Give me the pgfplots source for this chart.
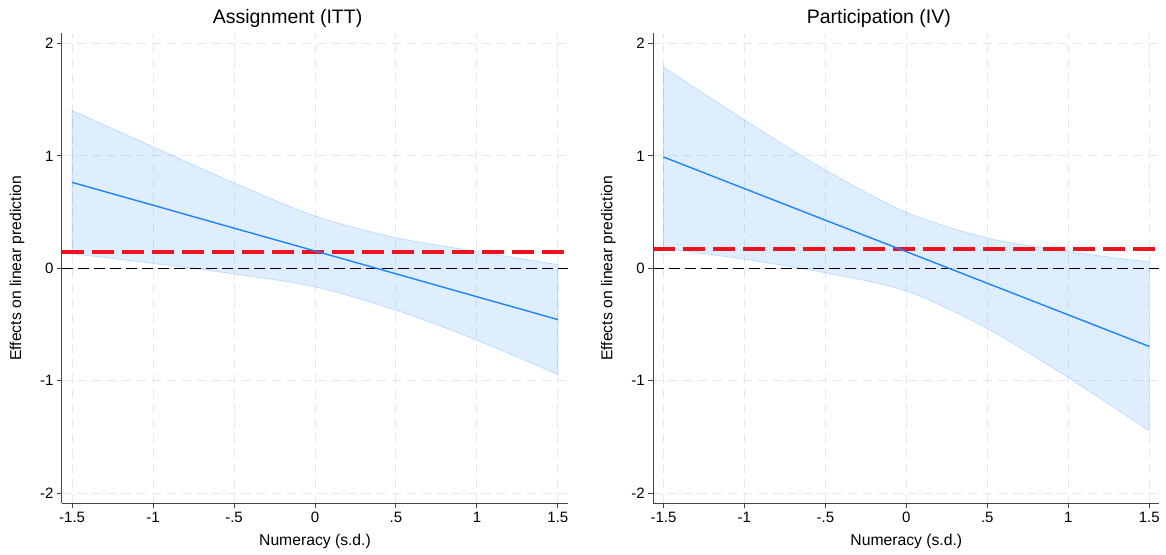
\documentclass[border=0pt]{standalone}
\usepackage{fontspec}
\setmainfont{Liberation Sans}
\usepackage{pgfplots}
\usepackage{pgfplotstable}
\pgfplotsset{compat=1.18}
\usepgfplotslibrary{fillbetween}

\definecolor{stblue}{RGB}{26,133,255}
\definecolor{refred}{RGB}{235,20,30}
\definecolor{gridgray}{RGB}{232,232,232}
\definecolor{axisgray}{RGB}{70,70,70}

% x, point estimate, upper and lower CI
\pgfplotstableread{
x     c       up     lo
-1.5  0.764   1.404  0.130
-1.0  0.561   1.080  0.043
-0.5  0.357   0.760 -0.050
 0.0  0.154   0.465 -0.165
 0.5 -0.049   0.273 -0.372
 1.0 -0.253   0.150 -0.640
 1.5 -0.456   0.033 -0.945
}\itt

\pgfplotstableread{
x     c       up     lo
-1.5  0.990   1.790  0.180
-1.0  0.709   1.320  0.080
-0.5  0.428   0.875 -0.040
 0.0  0.148   0.498 -0.202
 0.5 -0.133   0.270 -0.535
 1.0 -0.414   0.148 -0.972
 1.5 -0.695   0.056 -1.446
}\iv

\pgfplotsset{
  effpanel/.style={
    scale only axis,
    width=506pt, height=470pt,
    xmin=-1.5625, xmax=1.5625,
    ymin=-2.09, ymax=2.09,
    axis x line*=bottom, axis y line*=left,
    axis line style={axisgray, line width=1pt, -},
    xtick={-1.5,-1,-0.5,0,0.5,1,1.5},
    xticklabels={-1.5,-1,-.5,0,.5,1,1.5},
    ytick={-2,-1,0,1,2},
    yticklabels={-2,-1,0,1,2},
    tick align=outside,
    major tick length=5pt,
    tick style={axisgray, line width=1pt},
    /pgf/number format/assume math mode=true,
    ticklabel style={font=\fontsize{15}{17}\selectfont},
    grid=major,
    grid style={gridgray, line width=1pt, dash pattern=on 9pt off 6pt},
    xlabel={Numeracy (s.d.)},
    ylabel={Effects on linear prediction},
    label style={font=\fontsize{15.7}{18}\selectfont},
    xlabel style={at={(axis description cs:0.5,-0.0904)}, anchor=base},
    ylabel style={at={(axis description cs:-0.0889,0.5)}, anchor=center},
    title style={font=\fontsize{19.5}{22}\selectfont,
      at={(axis description cs:0.4457,1.0198)}, anchor=base, yshift=-6pt},
  },
}

\begin{document}
\begin{tikzpicture}

\begin{axis}[effpanel, title={Assignment (ITT)}]
\addplot[draw=none, name path=up, smooth] table[x=x, y=up]{\itt};
\addplot[draw=none, name path=lo, smooth] table[x=x, y=lo]{\itt};
\addplot[fill=stblue, fill opacity=0.14, draw=stblue, draw opacity=0.22, line width=0.8pt]
  fill between[of=up and lo];
\addplot[black, line width=0.9pt, dash pattern=on 11pt off 5pt] coordinates {(-1.5625,0) (1.5625,0)};
\addplot[refred, line width=4pt, dash pattern=on 22pt off 8pt] coordinates {(-1.5625,0.148) (1.5625,0.148)};
\addplot[stblue, line width=1.4pt] table[x=x, y=c]{\itt};
\end{axis}

\begin{axis}[effpanel, at={(591.3pt,0pt)}, title={Participation (IV)}]
\addplot[draw=none, name path=up, smooth] table[x=x, y=up]{\iv};
\addplot[draw=none, name path=lo, smooth] table[x=x, y=lo]{\iv};
\addplot[fill=stblue, fill opacity=0.14, draw=stblue, draw opacity=0.22, line width=0.8pt]
  fill between[of=up and lo];
\addplot[black, line width=0.9pt, dash pattern=on 11pt off 5pt] coordinates {(-1.5625,0) (1.5625,0)};
\addplot[refred, line width=4pt, dash pattern=on 22pt off 8pt] coordinates {(-1.5625,0.169) (1.5625,0.169)};
\addplot[stblue, line width=1.4pt] table[x=x, y=c]{\iv};
\end{axis}

\pgfresetboundingbox
\useasboundingbox (-62pt,-50.7pt) rectangle (1104pt,503.3pt);
\end{tikzpicture}
\end{document}
